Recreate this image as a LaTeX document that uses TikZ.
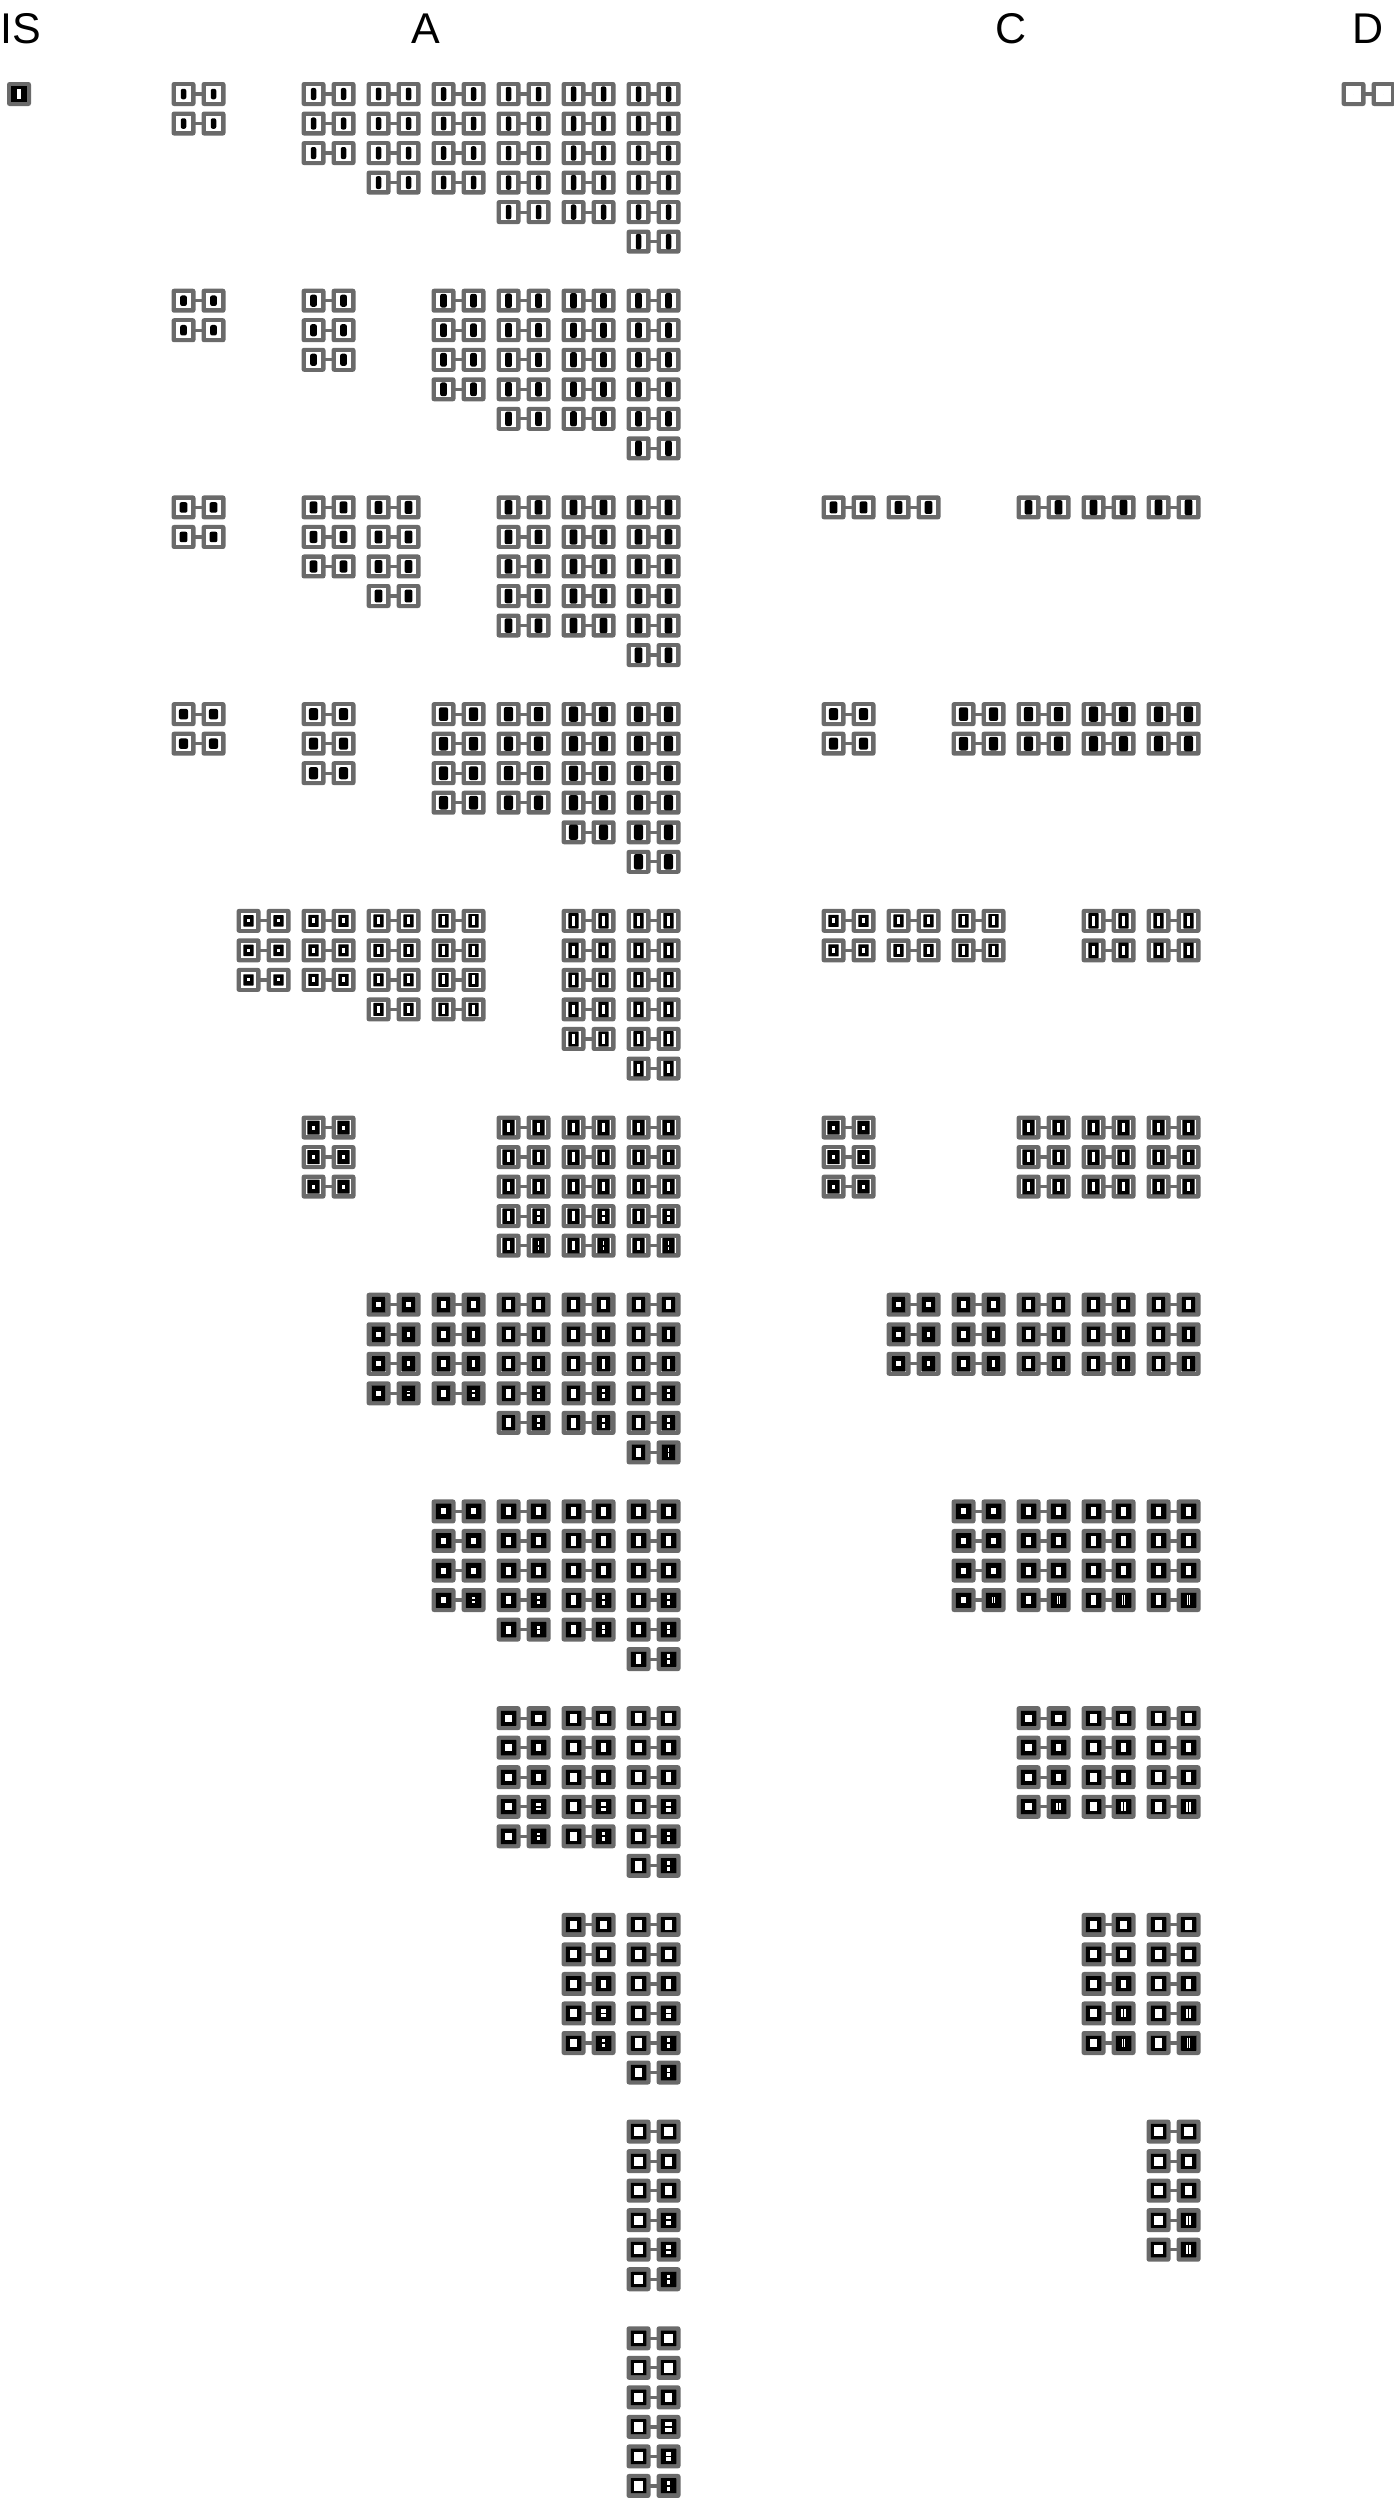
\documentclass[tikz,border=0pt]{standalone}
\usepackage{fontspec}
\setmainfont{Liberation Sans}
\definecolor{glyphgray}{HTML}{6A6A6A}

% one square of a glyph: x, y, black w, black h, hole w, hole h, bar (0/1/2), corner
\newcommand\glyphsq[8]{%
  \fill[glyphgray, rounded corners=2.5pt] ({#1-12},{#2-12}) rectangle ({#1+12},{#2+12});
  \fill[white] ({#1-7.75},{#2-7.75}) rectangle ({#1+7.75},{#2+7.75});
  \fill[black, rounded corners=#8] ({#1-#3/2},{#2-#4/2}) rectangle ({#1+#3/2},{#2+#4/2});
  \ifdim #5pt>0pt
    \fill[white] ({#1-#5/2},{#2-#6/2}) rectangle ({#1+#5/2},{#2+#6/2});
  \fi
  \ifnum#7=1 \fill[black] ({#1-#5/2},{#2-0.9}) rectangle ({#1+#5/2},{#2+0.9}); \fi
  \ifnum#7=2 \fill[black] ({#1-0.9},{#2-#6/2}) rectangle ({#1+0.9},{#2+#6/2}); \fi
}

% one column of glyph pairs: block, column, first row, rows
\newcommand\glyphcol[4]{%
  \foreach \j in {1,...,#4}{%
    \pgfmathsetmacro\gx{198.5+65*#2}%
    \pgfmathsetmacro\gy{94+29.53*(#3+\j-1)}%
    \pgfmathsetmacro\q{(#2<10) ? #2 : #2-8}%
    \pgfmathsetmacro\gw{min(15.5,(#1<5) ? 5.5+1.2*#1 : 10.3+2*(#1-4))}%
    \pgfmathsetmacro\gh{(#1>6) ? 15.5 : min(15.5,10.5+0.8*\q+2*max(0,#1-4))}%
    \pgfmathsetmacro\hw{(#1<4) ? 0 : min(\gw-4,2.5+(#1-4))}%
    \pgfmathsetmacro\hh{(#1<4) ? 0 : min(\gh-4,max(\hw,min(9.5,max(3,1+2*\q-(#1-4)))))}%
    \pgfmathsetmacro\hwr{(#1<5) ? \hw : max(1.5,\hw*(1-0.12*(\j-1)))}%
    \pgfmathtruncatemacro\bartype{(#1>4 && \j>3) ? ((#2<10) ? 1 : 2) : 0}%
    \edef\rnd{\ifnum#1<4 2pt\else 0.5pt\fi}%
    \glyphsq{\gx-15}{\gy}{\gw}{\gh}{\hw}{\hh}{0}{\rnd}%
    \glyphsq{\gx+15}{\gy}{\gw}{\gh}{\hwr}{\hh}{\bartype}{\rnd}%
    \fill[glyphgray] ({\gx-3.5},{\gy-1.6}) rectangle ({\gx+3.5},{\gy+1.6});
  }}

\begin{document}
\begin{tikzpicture}[
  x=1pt, y=-1pt,
  lbl/.style={font=\fontsize{43}{43}\selectfont, inner sep=0pt, anchor=base}
]
\useasboundingbox (0,0) rectangle (1394,2498);

% group labels
\node[lbl, anchor=base west] (labIS) at (0,43) {IS};
\node[lbl] (labA) at (426,43) {A};
\node[lbl] (labC) at (1011,43) {C};
\node[lbl] (labD) at (1368,43) {D};

% IS and D
\glyphsq{19}{94}{15.5}{15.5}{4}{10}{0}{0pt}
\glyphsq{1353.5}{94}{0}{0}{0}{0}{0}{0pt}
\glyphsq{1383.5}{94}{0}{0}{0}{0}{0}{0pt}
\fill[glyphgray] (1365,92.4) rectangle (1372,95.6);

% blocks, top to bottom
\foreach \col/\nrow in {0/2,2/3,3/4,4/4,5/5,6/5,7/6} {\glyphcol{0}{\col}{0}{\nrow}}
\foreach \col/\nrow in {0/2,2/3,4/4,5/5,6/5,7/6} {\glyphcol{1}{\col}{7}{\nrow}}
\foreach \col/\nrow in {0/2,2/3,3/4,5/5,6/5,7/6,10/1,11/1,13/1,14/1,15/1} {\glyphcol{2}{\col}{14}{\nrow}}
\foreach \col/\nrow in {0/2,2/3,4/4,5/4,6/5,7/6,10/2,12/2,13/2,14/2,15/2} {\glyphcol{3}{\col}{21}{\nrow}}
\foreach \col/\nrow in {1/3,2/3,3/4,4/4,6/5,7/6,10/2,11/2,12/2,14/2,15/2} {\glyphcol{4}{\col}{28}{\nrow}}
\foreach \col/\nrow in {2/3,5/5,6/5,7/5,10/3,13/3,14/3,15/3} {\glyphcol{5}{\col}{35}{\nrow}}
\foreach \col/\nrow in {3/4,4/4,5/5,6/5,7/6,11/3,12/3,13/3,14/3,15/3} {\glyphcol{6}{\col}{41}{\nrow}}
\foreach \col/\nrow in {4/4,5/5,6/5,7/6,12/4,13/4,14/4,15/4} {\glyphcol{7}{\col}{48}{\nrow}}
\foreach \col/\nrow in {5/5,6/5,7/6,13/4,14/4,15/4} {\glyphcol{8}{\col}{55}{\nrow}}
\foreach \col/\nrow in {6/5,7/6,14/5,15/5} {\glyphcol{9}{\col}{62}{\nrow}}
\foreach \col/\nrow in {7/6,15/5} {\glyphcol{10}{\col}{69}{\nrow}}
\foreach \col/\nrow in {7/6} {\glyphcol{11}{\col}{76}{\nrow}}
\end{tikzpicture}
\end{document}
